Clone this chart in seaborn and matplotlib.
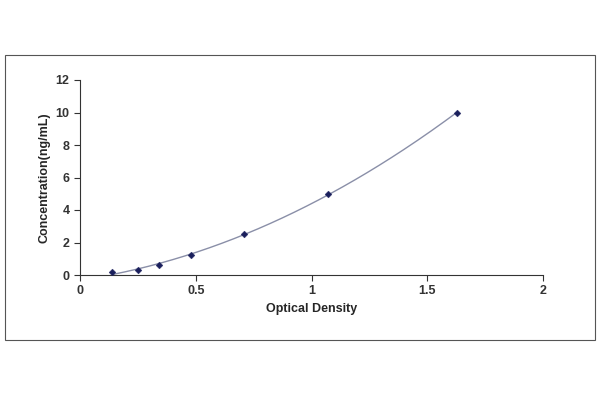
import matplotlib
matplotlib.use("Agg")
import matplotlib.pyplot as plt
import seaborn as sns
import numpy as np
from matplotlib.patches import Rectangle

od = [0.14, 0.25, 0.34, 0.48, 0.71, 1.07, 1.63]
conc = [0.156, 0.312, 0.625, 1.25, 2.5, 5.0, 10.0]
xticks = [0, 0.5, 1, 1.5, 2]
yticks = [0, 2, 4, 6, 8, 10, 12]

sns.set_style("white")
plt.rcParams['font.family'] = ['Liberation Sans', 'DejaVu Sans']
fig = plt.figure(figsize=(6, 4), dpi=100)
fig.patches.append(Rectangle((5/600, 1-340/400), 590/600, 285/400, transform=fig.transFigure,
                             fill=False, edgecolor='#555555', linewidth=0.8))
ax = fig.add_axes([80/600, 1-275/400, 463/600, 195/400])

coef = np.polyfit(od, conc, 2)
xs = np.linspace(min(od), max(od), 200)
sns.lineplot(x=xs, y=np.polyval(coef, xs), ax=ax, color='#8a8fa8', linewidth=1)
sns.scatterplot(x=od, y=conc, ax=ax, marker='D', s=12, color='#1a1f5c', edgecolor='#1a1f5c', zorder=3)

ax.set_xlim(0, 2)
ax.set_ylim(0, 12)
ax.set_xticks(xticks)
ax.set_xticklabels([str(t) for t in xticks])
ax.set_yticks(yticks)
for s in ['top', 'right']:
    ax.spines[s].set_visible(False)
for s in ['left', 'bottom']:
    ax.spines[s].set_color('#333333')
    ax.spines[s].set_linewidth(0.8)
ax.tick_params(direction='out', length=4, width=0.8, colors='#333333', labelsize=9,
               left=True, bottom=True)
for lab in ax.get_xticklabels() + ax.get_yticklabels():
    lab.set_fontweight('bold')
ax.set_xlabel('Optical Density', fontsize=9, fontweight='bold')
ax.set_ylabel('Concentration(ng/mL)', fontsize=9, fontweight='bold')
fig.savefig('out.png', dpi=100)
